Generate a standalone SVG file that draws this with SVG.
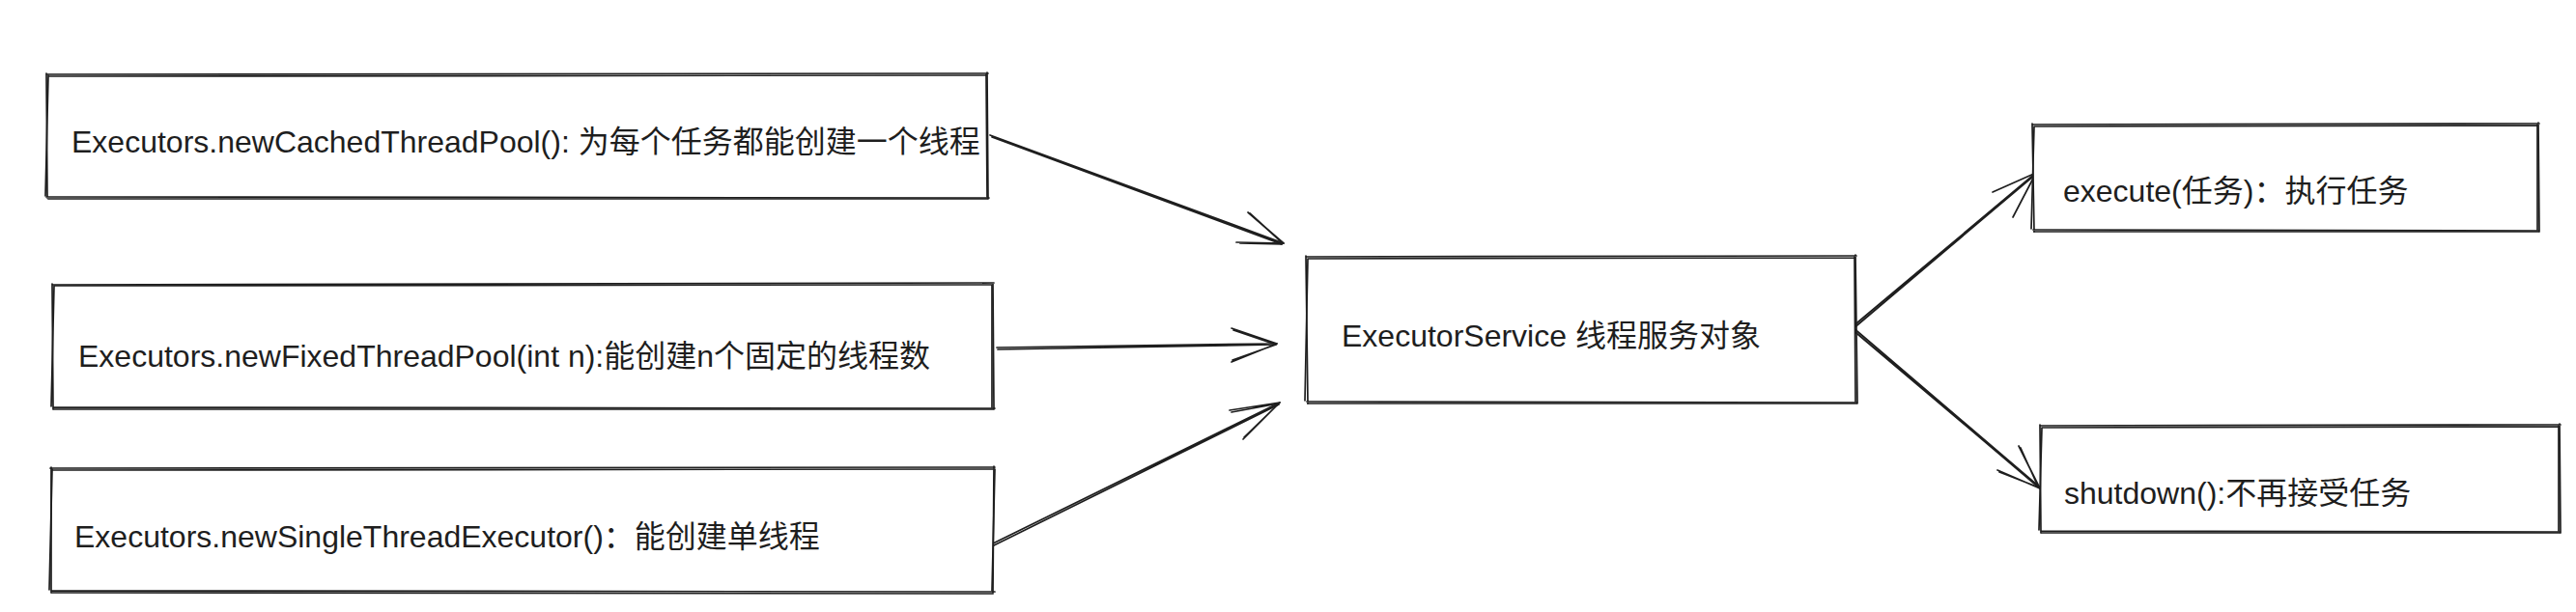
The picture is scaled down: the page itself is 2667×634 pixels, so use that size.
<svg xmlns="http://www.w3.org/2000/svg" width="2667" height="634" viewBox="0 0 2667 634">
<style>
.sk{fill:none;stroke:#1e1e1e;stroke-width:1.7;stroke-linecap:round;stroke-linejoin:round}
.bg{fill:#ffffff;stroke:none}
.t{font-family:"Liberation Sans","Noto Sans CJK SC",sans-serif;font-size:32px;fill:#1e1e1e}
</style>
<rect width="2667" height="634" fill="#ffffff"/>
<g id="connectors">
  <g id="c1">
    <path class="sk" d="M1025 140 L1329 252 M1027 142 L1327 253"/>
    <path class="sk" d="M1329 252 L1292 220 M1327 251 L1294 221 M1329 252 L1280 251 M1327 253 L1284 252"/>
  </g>
  <g id="c2">
    <path class="sk" d="M1032 360 L1322 356 M1033 362 L1321 357"/>
    <path class="sk" d="M1322 356 L1275 340 M1321 357 L1277 342 M1322 356 L1275 375 M1321 357 L1276 373"/>
  </g>
  <g id="c3">
    <path class="sk" d="M1028 563 L1325 417 M1029 565 L1324 419"/>
    <path class="sk" d="M1325 417 L1273 425 M1324 418 L1275 427 M1325 417 L1287 455 M1323 419 L1288 453"/>
  </g>
  <g id="c4">
    <path class="sk" d="M1916 340 L2108 179 M1918 341 L2107 181"/>
    <path class="sk" d="M2108 179 L2063 199 M2108 179 L2084 225"/>
  </g>
  <g id="c5">
    <path class="sk" d="M1916 340 L2112 506 M1918 339 L2111 504"/>
    <path class="sk" d="M2112 506 L2068 487 M2111 505 L2070 489 M2112 506 L2090 462 M2110 504 L2092 464"/>
  </g>
</g>
<g id="n1">
  <rect class="bg" x="49" y="77" width="973" height="128"/>
  <path class="sk" d="M48 77 L1023 76 M1022 75 L1023 206 M1024 205 L48 204 M49 205 L48 76"/>
  <path class="sk" d="M50 79 L1021 78 M1021 77 L1022 204 M1022 206 L50 206 M47 203 L50 78"/>
  <text class="t" x="74" y="158">Executors.newCachedThreadPool(): 为每个任务都能创建一个线程</text>
</g>
<g id="n2">
  <rect class="bg" x="55" y="294" width="973" height="129"/>
  <path class="sk" d="M54 295 L1029 293 M1028 294 L1029 424 M1030 423 L55 422 M55 424 L54 294"/>
  <path class="sk" d="M56 296 L1027 295 M1027 296 L1027 422 M1028 424 L56 424 M53 421 L56 296"/>
  <text class="t" x="81" y="380">Executors.newFixedThreadPool(int n):能创建n个固定的线程数</text>
</g>
<g id="n3">
  <rect class="bg" x="53" y="485" width="976" height="128"/>
  <path class="sk" d="M52 485 L1030 484 M1029 483 L1028 614 M1030 613 L53 612 M53 614 L53 484"/>
  <path class="sk" d="M54 487 L1028 486 M1030 486 L1027 612 M1028 615 L54 614 M51 611 L54 486"/>
  <text class="t" x="77" y="567">Executors.newSingleThreadExecutor()：能创建单线程</text>
</g>
<g id="center">
  <rect class="bg" x="1353" y="266" width="568" height="151"/>
  <path class="sk" d="M1352 266 L1922 265 M1921 264 L1923 418 M1923 417 L1353 416 M1354 418 L1352 265"/>
  <path class="sk" d="M1354 268 L1920 267 M1920 266 L1921 416 M1922 418 L1354 418 M1351 415 L1354 268"/>
  <text class="t" x="1389" y="359">ExecutorService 线程服务对象</text>
</g>
<g id="execute">
  <rect class="bg" x="2105" y="129" width="523" height="110"/>
  <path class="sk" d="M2104 129 L2629 128 M2628 127 L2629 240 M2629 239 L2105 238 M2106 240 L2104 128"/>
  <path class="sk" d="M2106 131 L2627 130 M2627 129 L2627 238 M2628 240 L2106 240 M2103 237 L2106 131"/>
  <text class="t" x="2136" y="209">execute(任务)：执行任务</text>
</g>
<g id="shutdown">
  <rect class="bg" x="2113" y="441" width="537" height="110"/>
  <path class="sk" d="M2112 441 L2651 440 M2650 439 L2651 552 M2651 551 L2113 550 M2113 552 L2112 440"/>
  <path class="sk" d="M2114 443 L2649 442 M2649 441 L2649 550 M2650 552 L2114 552 M2111 549 L2114 443"/>
  <text class="t" x="2137" y="522">shutdown():不再接受任务</text>
</g>
</svg>
